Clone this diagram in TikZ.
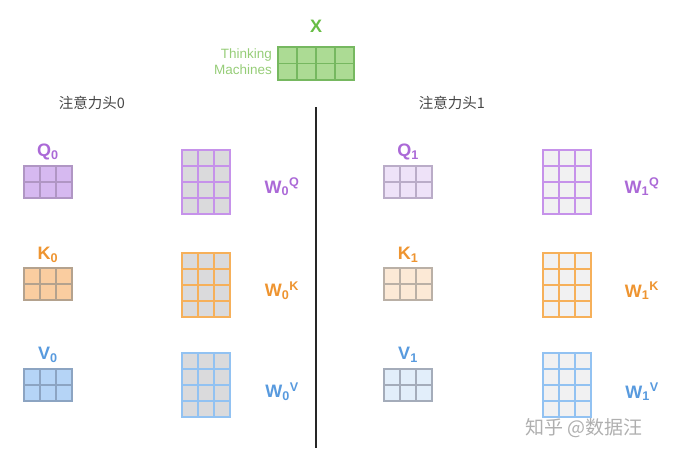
\documentclass[tikz,border=0pt]{standalone}
\usepackage{fontspec}
\setmainfont{Liberation Sans}
\newfontfamily\cjk{Noto Sans CJK SC}
\usepackage{tikz}
\usetikzlibrary{positioning,calc}
\definecolor{xgreen}{RGB}{104,189,69}
\definecolor{xfill}{RGB}{172,219,148}
\definecolor{xline}{RGB}{118,184,96}
\definecolor{xword}{RGB}{150,205,120}
\definecolor{qtext}{RGB}{171,105,215}
\definecolor{qfillA}{RGB}{214,185,240}
\definecolor{qfillB}{RGB}{238,226,248}
\definecolor{qlineA}{RGB}{176,150,196}
\definecolor{qlineB}{RGB}{186,172,200}
\definecolor{wqline}{RGB}{198,146,234}
\definecolor{ktext}{RGB}{238,148,48}
\definecolor{kfillA}{RGB}{250,205,160}
\definecolor{kfillB}{RGB}{252,233,214}
\definecolor{klineA}{RGB}{180,162,142}
\definecolor{klineB}{RGB}{186,176,166}
\definecolor{wkline}{RGB}{246,176,90}
\definecolor{vtext}{RGB}{88,154,222}
\definecolor{vfillA}{RGB}{181,212,246}
\definecolor{vfillB}{RGB}{226,238,250}
\definecolor{vlineA}{RGB}{140,164,194}
\definecolor{vlineB}{RGB}{164,172,186}
\definecolor{wvline}{RGB}{146,194,242}
\definecolor{wfillA}{RGB}{218,218,220}
\definecolor{wfillB}{RGB}{241,241,242}
\definecolor{headgray}{RGB}{70,70,70}
\definecolor{markgray}{RGB}{175,175,175}

\begin{document}
\begin{tikzpicture}[x=1pt, y=-1pt,
  mat/.style={inner sep=0pt, outer sep=0pt},
  small/.style={mat, minimum width=48pt, minimum height=32pt},
  tall/.style={mat, minimum width=48pt, minimum height=64pt},
  cellline/.style={line width=1.3pt, line cap=rect},
  matlabel/.style={font=\fontsize{18}{20}\selectfont\bfseries, inner sep=0pt},
  headlabel/.style={font=\cjk\fontsize{14.5}{16}\selectfont, text=headgray},
  divider/.style={line width=1.2pt, black!85}
]
\useasboundingbox (0,0) rectangle (677,455);

% input
\node[matlabel, text=xgreen] (xlab) at (316,26) {X};
\node[mat, minimum width=76pt, minimum height=33pt, fill=xfill] (x) at (316,63.5) {};
\node[anchor=east, align=right, text=xword, font=\fontsize{13.5}{16}\selectfont, inner sep=0pt] (words) at (272,62) {Thinking\\Machines};

% heads
\node[headlabel] (head0) at (92,103) {注意力头0};
\node[headlabel] (head1) at (452,103) {注意力头1};
\coordinate (top) at (316,107);
\coordinate (bot) at (316,448);
\draw[divider] (top) -- (bot);

% head 0
\node[small, fill=qfillA] (q0) at (48,182) {};
\node[small, fill=kfillA] (k0) at (48,284) {};
\node[small, fill=vfillA] (v0) at (48,385) {};
\node[tall, fill=wfillA] (wq0) at (206,182) {};
\node[tall, fill=wfillA] (wk0) at (206,285) {};
\node[tall, fill=wfillA] (wv0) at (206,385) {};
\node[matlabel, text=qtext] (q0lab) at (48,152) {Q\textsubscript{0}};
\node[matlabel, text=ktext] (k0lab) at (48,255) {K\textsubscript{0}};
\node[matlabel, text=vtext] (v0lab) at (48,355) {V\textsubscript{0}};
\node[matlabel, text=qtext] (wq0lab) at (282,187) {W\textsubscript{0}\textsuperscript{Q}};
\node[matlabel, text=ktext] (wk0lab) at (282,291) {W\textsubscript{0}\textsuperscript{K}};
\node[matlabel, text=vtext] (wv0lab) at (282,392) {W\textsubscript{0}\textsuperscript{V}};

% head 1
\node[small, fill=qfillB] (q1) at (408,182) {};
\node[small, fill=kfillB] (k1) at (408,284) {};
\node[small, fill=vfillB] (v1) at (408,385) {};
\node[tall, fill=wfillB] (wq1) at (567,182) {};
\node[tall, fill=wfillB] (wk1) at (567,285) {};
\node[tall, fill=wfillB] (wv1) at (567,385) {};
\node[matlabel, text=qtext] (q1lab) at (408,152) {Q\textsubscript{1}};
\node[matlabel, text=ktext] (k1lab) at (408,255) {K\textsubscript{1}};
\node[matlabel, text=vtext] (v1lab) at (408,355) {V\textsubscript{1}};
\node[matlabel, text=qtext] (wq1lab) at (642,187) {W\textsubscript{1}\textsuperscript{Q}};
\node[matlabel, text=ktext] (wk1lab) at (642,291) {W\textsubscript{1}\textsuperscript{K}};
\node[matlabel, text=vtext] (wv1lab) at (642,392) {W\textsubscript{1}\textsuperscript{V}};

% cell lines, border included
\foreach \m/\c/\r/\col in {x/4/2/xline, q0/3/2/qlineA, k0/3/2/klineA, v0/3/2/vlineA,
    wq0/3/4/wqline, wk0/3/4/wkline, wv0/3/4/wvline,
    q1/3/2/qlineB, k1/3/2/klineB, v1/3/2/vlineB,
    wq1/3/4/wqline, wk1/3/4/wkline, wv1/3/4/wvline} {
  \foreach \i in {0,...,\c}
    \draw[cellline, color=\col] ($(\m.north west)!{\i/\c}!(\m.north east)$) -- ($(\m.south west)!{\i/\c}!(\m.south east)$);
  \foreach \j in {0,...,\r}
    \draw[cellline, color=\col] ($(\m.north west)!{\j/\r}!(\m.south west)$) -- ($(\m.north east)!{\j/\r}!(\m.south east)$);
}

\node[font=\cjk\fontsize{19}{21}\selectfont, text=markgray] (mark) at (584,428) {知乎 @数据汪};

\end{tikzpicture}
\end{document}
